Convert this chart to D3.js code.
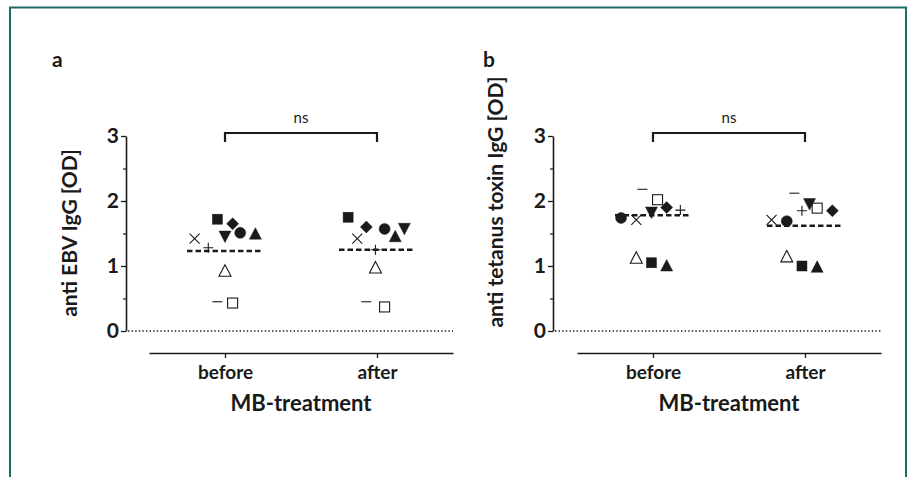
<!DOCTYPE html>
<html>
<head>
<meta charset="utf-8">
<script src="https://cdn.jsdelivr.net/npm/d3@7"></script>
<style>
  body { margin: 0; background: #fff; }
  text { font-family: Lato, "Open Sans", sans-serif; fill: #1a1a1a; }
</style>
</head>
<body>
<div id="chart_area"></div>
<script>

// groups on the x axis
var groups = ["before", "after"];
var y_ticks = [0, 1, 2, 3];

// one marker per subject, same order in every array
var subjects = ["sqFill", "diamond", "triDown", "circle", "triUp", "cross", "plus", "triOpen", "minus", "sqOpen"];

// panel a: anti EBV IgG [OD]
var ebv_before = [1.72, 1.65, 1.46, 1.51, 1.49, 1.42, 1.28, 0.92, 0.45, 0.43];
var ebv_after  = [1.75, 1.60, 1.58, 1.57, 1.45, 1.42, 1.25, 0.97, 0.45, 0.37];
var ebv_means  = [1.23, 1.25];

// panel b: anti tetanus toxin IgG [OD]
var tet_before = [1.05, 1.90, 1.83, 1.74, 1.00, 1.71, 1.86, 1.12, 2.18, 2.02];
var tet_after  = [1.00, 1.85, 1.96, 1.69, 0.98, 1.71, 1.85, 1.14, 2.12, 1.89];
var tet_means  = [1.78, 1.62];

// horizontal scatter of the points (in group units)
var ebv_jit_before = [-0.05, 0.05, 0, 0.10, 0.20, -0.20, -0.11, 0, -0.05, 0.05];
var ebv_jit_after  = [-0.19, -0.07, 0.18, 0.05, 0.12, -0.13, -0.01, -0.01, -0.07, 0.05];
var tet_jit_before = [-0.01, 0.09, -0.01, -0.21, 0.09, -0.11, 0.18, -0.11, -0.07, 0.03];
var tet_jit_after  = [-0.02, 0.18, 0.03, -0.12, 0.08, -0.22, -0.02, -0.12, -0.07, 0.08];

var frame = d3.select("#chart_area").append("svg")
  .attr("width", 912)
  .attr("height", 477);

// teal frame round the figure (open at the bottom)
frame.append("path")
  .attr("d", "M10,480 L10,7.5 L906,7.5 L906,480")
  .attr("fill", "none")
  .attr("stroke", "#1b6b66")
  .attr("stroke-width", 2);

var yScale = d3.scaleLinear().domain([0, 3]).range([331, 136]);

function drawMarker(g, type, x, y) {
  var s;
  if (type == "sqFill" || type == "sqOpen") {
    s = g.append("rect").attr("x", x - 5).attr("y", y - 5).attr("width", 10).attr("height", 10);
  } else if (type == "circle") {
    s = g.append("circle").attr("cx", x).attr("cy", y).attr("r", 5.5);
  } else if (type == "diamond") {
    s = g.append("path").attr("d", "M" + x + "," + (y - 6) + "L" + (x + 6) + "," + y + "L" + x + "," + (y + 6) + "L" + (x - 6) + "," + y + "Z");
  } else if (type == "triUp" || type == "triOpen") {
    s = g.append("path").attr("d", "M" + x + "," + (y - 6.5) + "L" + (x + 6) + "," + (y + 5) + "L" + (x - 6) + "," + (y + 5) + "Z");
  } else if (type == "triDown") {
    s = g.append("path").attr("d", "M" + x + "," + (y + 6.5) + "L" + (x + 6) + "," + (y - 5) + "L" + (x - 6) + "," + (y - 5) + "Z");
  } else if (type == "cross") {
    s = g.append("path").attr("d", "M" + (x - 5) + "," + (y - 5) + "L" + (x + 5) + "," + (y + 5) + "M" + (x + 5) + "," + (y - 5) + "L" + (x - 5) + "," + (y + 5));
  } else if (type == "plus") {
    s = g.append("path").attr("d", "M" + (x - 5) + "," + y + "L" + (x + 5) + "," + y + "M" + x + "," + (y - 5) + "L" + x + "," + (y + 5));
  } else if (type == "minus") {
    s = g.append("path").attr("d", "M" + (x - 5) + "," + y + "L" + (x + 5) + "," + y);
  }
  var filled = ["sqFill", "circle", "diamond", "triUp", "triDown"].indexOf(type) >= 0;
  s.attr("fill", filled ? "#1a1a1a" : "none")
   .attr("stroke", "#1a1a1a")
   .attr("stroke-width", filled ? 0.5 : 1.1);
}

function drawPanel(opts) {
  var canvas = frame.append("g");

  var xScale = d3.scaleLinear().domain([0.5, 2.5]).range([opts.x0, opts.x0 + 304]);

  // panel letter
  canvas.append("text")
    .attr("x", opts.letterX).attr("y", 67)
    .attr("font-size", 21).attr("font-weight", "bold")
    .text(opts.letter);

  // y axis
  var yAxis = d3.axisLeft(yScale).tickValues(y_ticks).tickFormat(d3.format("d")).tickSize(5).tickSizeOuter(0);
  var ya = canvas.append("g")
    .attr("transform", "translate(" + opts.axisX + ",0)")
    .call(yAxis);
  ya.select(".domain").attr("stroke", "#1a1a1a").attr("stroke-width", 1.6);
  ya.selectAll(".tick line").attr("stroke", "#1a1a1a").attr("stroke-width", 1.3);
  ya.selectAll(".tick text")
    .attr("font-size", 21).attr("font-weight", "bold")
    .attr("font-family", "Lato, 'Open Sans', sans-serif")
    .attr("fill", "#1a1a1a").attr("x", -7);

  // minor ticks
  var minor = d3.axisLeft(yScale).tickValues([0.5, 1.5, 2.5]).tickSize(3).tickFormat("");
  var ym = canvas.append("g")
    .attr("transform", "translate(" + opts.axisX + ",0)")
    .call(minor);
  ym.select(".domain").remove();
  ym.selectAll(".tick line").attr("stroke", "#1a1a1a").attr("stroke-width", 1.2);

  // y title
  canvas.append("text")
    .attr("transform", "translate(" + opts.titleX + "," + opts.titleY + ") rotate(-90)")
    .attr("text-anchor", "middle")
    .attr("font-size", 21).attr("font-weight", "bold")
    .text(opts.yTitle);

  // dotted zero line
  canvas.append("line")
    .attr("x1", opts.axisX + 2).attr("x2", xScale(2.5))
    .attr("y1", yScale(0)).attr("y2", yScale(0))
    .attr("stroke", "#1a1a1a").attr("stroke-width", 1.6)
    .attr("stroke-dasharray", "1.4,2.2");

  // x axis (separate, below)
  var xAxis = d3.axisBottom(xScale).tickValues([1, 2])
    .tickFormat(function (d) { return groups[d - 1]; })
    .tickSize(5).tickSizeOuter(0);
  var xa = canvas.append("g")
    .attr("transform", "translate(0,353)")
    .call(xAxis);
  xa.select(".domain").attr("stroke", "#1a1a1a").attr("stroke-width", 1.6);
  xa.selectAll(".tick line").attr("stroke", "#1a1a1a").attr("stroke-width", 1.3);
  xa.selectAll(".tick text")
    .attr("font-size", 19).attr("font-weight", "bold")
    .attr("font-family", "Lato, 'Open Sans', sans-serif")
    .attr("fill", "#1a1a1a").attr("y", 13);

  canvas.append("text")
    .attr("x", xScale(1.5)).attr("y", 411)
    .attr("text-anchor", "middle")
    .attr("font-size", 22).attr("font-weight", "bold")
    .text("MB-treatment");

  // significance bracket
  var by = 133;
  canvas.append("path")
    .attr("d", "M" + xScale(1) + "," + (by + 9) + "V" + by + "H" + xScale(2) + "V" + (by + 9))
    .attr("fill", "none").attr("stroke", "#1a1a1a").attr("stroke-width", 2.2);
  canvas.append("text")
    .attr("x", xScale(1.5)).attr("y", by - 10)
    .attr("text-anchor", "middle")
    .attr("font-size", 15)
    .text("ns");

  // mean lines
  opts.means.forEach(function (m, i) {
    canvas.append("line")
      .attr("x1", xScale(i + 1 - 0.25)).attr("x2", xScale(i + 1 + 0.25))
      .attr("y1", yScale(m)).attr("y2", yScale(m))
      .attr("stroke", "#1a1a1a").attr("stroke-width", 2.6)
      .attr("stroke-dasharray", "5.5,3");
  });

  // points
  var pts = canvas.append("g").attr("class", "data_canvas");
  [opts.before, opts.after].forEach(function (vals, gi) {
    var jit = gi == 0 ? opts.jitBefore : opts.jitAfter;
    vals.forEach(function (v, i) {
      drawMarker(pts, subjects[i], xScale(gi + 1 + jit[i]), yScale(v));
    });
  });
}

drawPanel({
  letter: "a", letterX: 52,
  x0: 149, axisX: 126,
  titleX: 77, titleY: 233,
  yTitle: "anti EBV IgG [OD]",
  before: ebv_before, after: ebv_after, means: ebv_means,
  jitBefore: ebv_jit_before, jitAfter: ebv_jit_after
});

drawPanel({
  letter: "b", letterX: 483,
  x0: 577, axisX: 553,
  titleX: 503, titleY: 202,
  yTitle: "anti tetanus toxin IgG [OD]",
  before: tet_before, after: tet_after, means: tet_means,
  jitBefore: tet_jit_before, jitAfter: tet_jit_after
});

</script>
</body>
</html>
